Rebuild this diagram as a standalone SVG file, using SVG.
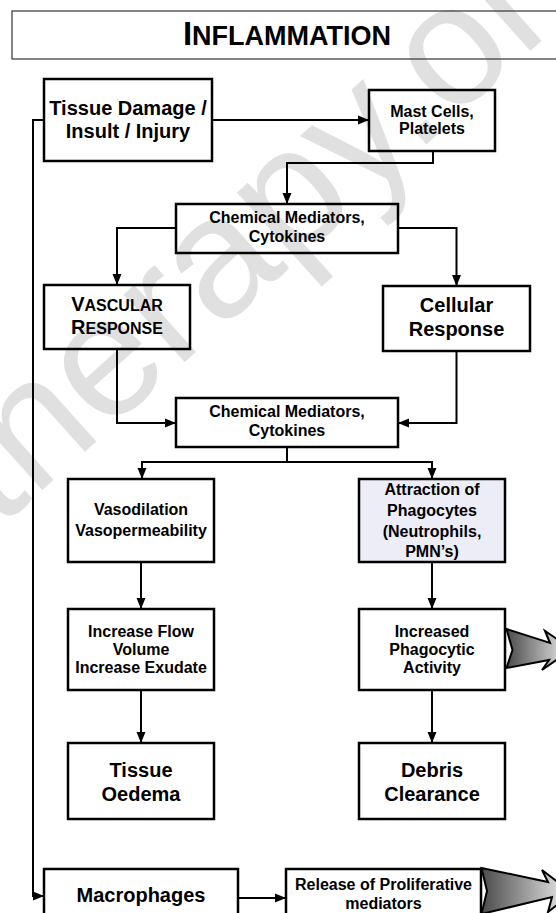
<svg xmlns="http://www.w3.org/2000/svg" width="556" height="913" viewBox="0 0 556 913">
<style>
  .box { fill: none; stroke: #000; stroke-width: 2.5; }
  .t { font-family: "Liberation Sans", Arial, sans-serif; font-weight: bold; fill: #000; text-anchor: middle; }
  .s16 { font-size: 16px; }
  .s20 { font-size: 20px; }
  .conn { fill: none; stroke: #000; stroke-width: 2; }
  .big { stroke: #000; stroke-width: 2; stroke-linejoin: miter; fill: url(#grey); }
</style>
<defs>
  <marker id="ah" markerUnits="userSpaceOnUse" markerWidth="12" markerHeight="12" viewBox="0 0 12 12" refX="11" refY="6" orient="auto">
    <path d="M0,1.5 L11,6 L0,10.5 Z" fill="#000"/>
  </marker>
  <linearGradient id="grey" x1="0" y1="0" x2="1" y2="0">
    <stop offset="0" stop-color="#4a4a4a"/>
    <stop offset="1" stop-color="#f2f2f2"/>
  </linearGradient>
</defs>
<rect width="556" height="913" fill="#fff"/>

<!-- watermark -->
<text transform="translate(-2,530) rotate(-42)" font-family="Liberation Sans, Arial, sans-serif" font-size="172" fill="#e0e0e0">therapy.org</text>

<g id="title">
  <rect x="12" y="11" width="560" height="48" fill="none" stroke="#333" stroke-width="1.2"/>
  <text class="t" x="287" y="45" font-size="33">I<tspan font-size="27">NFLAMMATION</tspan></text>
</g>

<g id="tissue-damage">
  <rect class="box" x="44" y="79" width="168" height="82"/>
  <text class="t s20" x="128" y="115">Tissue Damage /</text>
  <text class="t s20" x="128" y="138">Insult / Injury</text>
</g>

<g id="mast-cells">
  <rect class="box" x="369" y="90" width="126" height="61"/>
  <text class="t s16" x="432" y="117">Mast Cells,</text>
  <text class="t s16" x="432" y="134">Platelets</text>
</g>

<g id="chem1">
  <rect class="box" x="176" y="204" width="222" height="49"/>
  <text class="t s16" x="287" y="223">Chemical Mediators,</text>
  <text class="t s16" x="287" y="242">Cytokines</text>
</g>

<g id="vascular">
  <rect class="box" x="44" y="285" width="146" height="64"/>
  <text class="t s20" x="117" y="311">V<tspan font-size="16">ASCULAR</tspan></text>
  <text class="t s20" x="117" y="334">R<tspan font-size="16">ESPONSE</tspan></text>
</g>

<g id="cellular">
  <rect class="box" x="383" y="286" width="147" height="65"/>
  <text class="t s20" x="456.5" y="312">Cellular</text>
  <text class="t s20" x="456.5" y="336">Response</text>
</g>

<g id="chem2">
  <rect class="box" x="176" y="398" width="222" height="49"/>
  <text class="t s16" x="287" y="417">Chemical Mediators,</text>
  <text class="t s16" x="287" y="436">Cytokines</text>
</g>

<g id="vasodilation">
  <rect class="box" x="68" y="479" width="146" height="83"/>
  <text class="t s16" x="141" y="515">Vasodilation</text>
  <text class="t s16" x="141" y="536">Vasopermeability</text>
</g>

<g id="attraction">
  <rect x="359" y="479" width="146" height="83" fill="#ededf7" stroke="#000" stroke-width="2.5"/>
  <text class="t s16" x="432" y="495">Attraction of</text>
  <text class="t s16" x="432" y="516">Phagocytes</text>
  <text class="t s16" x="432" y="537">(Neutrophils,</text>
  <text class="t s16" x="432" y="557">PMN’s)</text>
</g>

<g id="increase-flow">
  <rect class="box" x="68" y="609" width="146" height="81"/>
  <text class="t s16" x="141" y="637">Increase Flow</text>
  <text class="t s16" x="141" y="655">Volume</text>
  <text class="t s16" x="141" y="673">Increase Exudate</text>
</g>

<g id="phagocytic">
  <rect class="box" x="359" y="609" width="146" height="81"/>
  <text class="t s16" x="432" y="637">Increased</text>
  <text class="t s16" x="432" y="655">Phagocytic</text>
  <text class="t s16" x="432" y="673">Activity</text>
</g>

<g id="oedema">
  <rect class="box" x="68" y="743" width="146" height="76"/>
  <text class="t s20" x="141" y="777">Tissue</text>
  <text class="t s20" x="141" y="801">Oedema</text>
</g>

<g id="debris">
  <rect class="box" x="359" y="743" width="146" height="76"/>
  <text class="t s20" x="432" y="777">Debris</text>
  <text class="t s20" x="432" y="801">Clearance</text>
</g>

<g id="macrophages">
  <rect class="box" x="44" y="869" width="194" height="60"/>
  <text class="t s20" x="141" y="902">Macrophages</text>
</g>

<g id="release">
  <rect class="box" x="286" y="869" width="195" height="60"/>
  <text class="t s16" x="383.5" y="890">Release of Proliferative</text>
  <text class="t s16" x="383.5" y="909">mediators</text>
</g>

<g id="connectors">
  <path class="conn" d="M212,120 H369" marker-end="url(#ah)"/>
  <path class="conn" d="M433,151 V163 H287 V204" marker-end="url(#ah)"/>
  <path class="conn" d="M176,228 H117 V285" marker-end="url(#ah)"/>
  <path class="conn" d="M398,228 H456.5 V286" marker-end="url(#ah)"/>
  <path class="conn" d="M117,349 V423 H176" marker-end="url(#ah)"/>
  <path class="conn" d="M456.5,351 V423 H398" marker-end="url(#ah)"/>
  <path class="conn" d="M287,447 V462 H142 V479" marker-end="url(#ah)"/>
  <path class="conn" d="M287,462 H432 V479" marker-end="url(#ah)"/>
  <path class="conn" d="M141,562 V609" marker-end="url(#ah)"/>
  <path class="conn" d="M432,562 V609" marker-end="url(#ah)"/>
  <path class="conn" d="M141,690 V743" marker-end="url(#ah)"/>
  <path class="conn" d="M432,690 V743" marker-end="url(#ah)"/>
  <path class="conn" d="M44,120 H33 V896 H44" marker-end="url(#ah)"/>
  <path class="conn" d="M238,898 H286" marker-end="url(#ah)"/>
  <path class="big" d="M506.5,629 L550,643 L545,631 L572,649 L542,670 L549,660 L506.5,668 L512.5,650 Z"/>
  <path class="big" d="M481.5,868 L548,882 L542,870 L572,893 L548,912 L552,897 L481.5,914 L487,891 Z"/>
</g>
</svg>
